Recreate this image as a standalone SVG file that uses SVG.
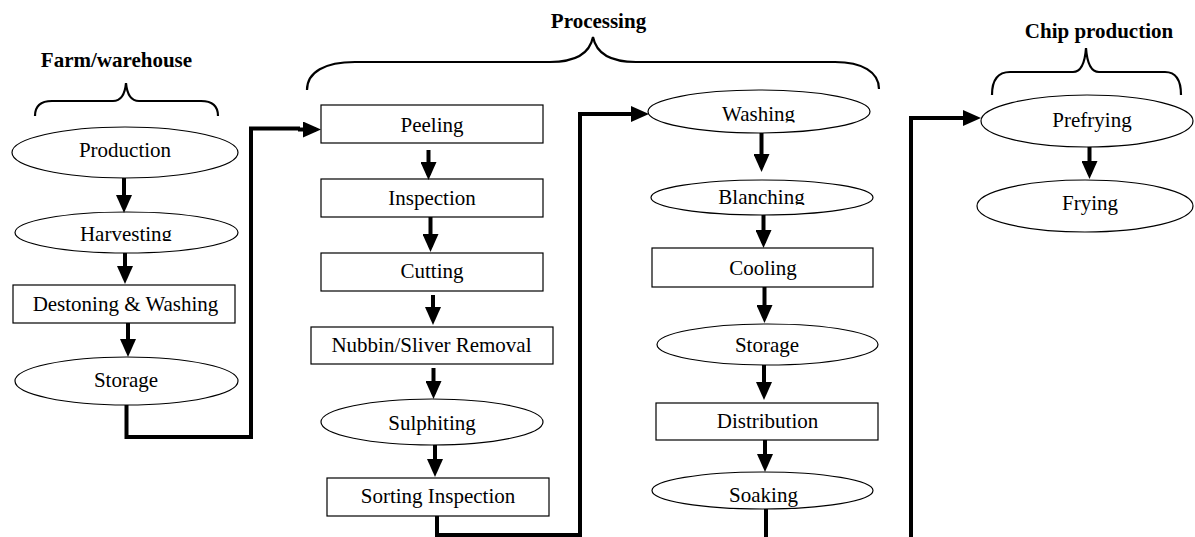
<svg xmlns="http://www.w3.org/2000/svg" width="1195" height="537" viewBox="0 0 1195 537">
<style>
.n{fill:#fff;stroke:#000;stroke-width:1.2}
.t{font-family:"Liberation Serif","Times New Roman",serif;font-size:21px;fill:#000;text-anchor:middle}
.h{font-family:"Liberation Serif","Times New Roman",serif;font-size:21px;font-weight:bold;fill:#000;text-anchor:middle}
.br{fill:none;stroke:#000;stroke-width:2.2}
.c{fill:none;stroke:#000;stroke-width:4}
</style>
<defs>
<marker id="ah" markerUnits="userSpaceOnUse" markerWidth="18" markerHeight="16" refX="13" refY="8" orient="auto">
<path d="M0,0 L18,8 L0,16 z" fill="#000"/>
</marker>
<clipPath id="clipHarv"><rect x="0" y="200" width="260" height="41"/></clipPath>
<clipPath id="clipWash"><rect x="640" y="90" width="240" height="32.5"/></clipPath>
<clipPath id="clipBlan"><rect x="640" y="178" width="240" height="27"/></clipPath>
</defs>

<g id="labels">
<text class="h" x="116.5" y="67">Farm/warehouse</text>
<path class="br" d="M35,116 C35,106 40,101 52,101 L113,101 C121,101 125,94 126,83 C127,94 131,101 139,101 L201,101 C213,101 218,106 218,116"/>
<text class="h" x="598.5" y="28">Processing</text>
<path class="br" d="M307,90 C307,72 325,62 355,62 L550,62 C578,62 590,52 593,37 C596,52 608,62 636,62 L835,62 C862,62 879,72 879,89"/>
<text class="h" x="1099" y="38">Chip production</text>
<path class="br" d="M992,95 C992,80 998,72 1010,72 L1073,72 C1081,72 1085,62 1086,48 C1087,62 1091,72 1099,72 L1165,72 C1176,72 1181,80 1181,95"/>
</g>

<g id="production"><ellipse class="n" cx="125" cy="152.5" rx="113" ry="25.5"/><text class="t" x="125" y="157">Production</text></g>
<g id="harvesting"><ellipse class="n" cx="126.5" cy="232.5" rx="111.5" ry="20.5"/><text class="t" x="126" y="241" clip-path="url(#clipHarv)">Harvesting</text></g>
<g id="destoning"><rect class="n" x="13" y="285" width="222" height="38"/><text class="t" x="125.5" y="311">Destoning &amp; Washing</text></g>
<g id="storage1"><ellipse class="n" cx="126.5" cy="381" rx="111.5" ry="24"/><text class="t" x="126" y="387">Storage</text></g>

<g id="peeling"><rect class="n" x="321" y="105" width="222" height="38"/><text class="t" x="432" y="132">Peeling</text></g>
<g id="inspection"><rect class="n" x="321" y="179" width="222" height="38"/><text class="t" x="432" y="205">Inspection</text></g>
<g id="cutting"><rect class="n" x="321" y="253" width="222" height="38"/><text class="t" x="432" y="278">Cutting</text></g>
<g id="nubbin"><rect class="n" x="311" y="327" width="242" height="37"/><text class="t" x="431.5" y="352">Nubbin/Sliver Removal</text></g>
<g id="sulphiting"><ellipse class="n" cx="432" cy="422" rx="111" ry="23"/><text class="t" x="432" y="430">Sulphiting</text></g>
<g id="sorting"><rect class="n" x="327" y="478" width="222" height="38"/><text class="t" x="438" y="503">Sorting Inspection</text></g>

<g id="washing"><ellipse class="n" cx="759" cy="111.5" rx="111" ry="21.5"/><text class="t" x="758.5" y="121" clip-path="url(#clipWash)">Washing</text></g>
<g id="blanching"><ellipse class="n" cx="762" cy="197.5" rx="111" ry="17.5"/><text class="t" x="761.5" y="204" clip-path="url(#clipBlan)">Blanching</text></g>
<g id="cooling"><rect class="n" x="652" y="248" width="221" height="39"/><text class="t" x="763" y="275">Cooling</text></g>
<g id="storage2"><ellipse class="n" cx="767.5" cy="344.5" rx="110.5" ry="20.5"/><text class="t" x="767" y="352">Storage</text></g>
<g id="distribution"><rect class="n" x="656" y="403" width="222" height="37"/><text class="t" x="767.5" y="428">Distribution</text></g>
<g id="soaking"><ellipse class="n" cx="762.5" cy="490.5" rx="110.5" ry="18.5"/><text class="t" x="763.5" y="502">Soaking</text></g>

<g id="prefrying"><ellipse class="n" cx="1087" cy="121" rx="106" ry="26"/><text class="t" x="1092" y="127">Prefrying</text></g>
<g id="frying"><ellipse class="n" cx="1085" cy="206" rx="108" ry="26"/><text class="t" x="1090" y="210">Frying</text></g>

<g id="connectors">
<path class="c" marker-end="url(#ah)" d="M124,178 V208"/>
<path class="c" marker-end="url(#ah)" d="M125,253 V279"/>
<path class="c" marker-end="url(#ah)" d="M128,323 V352"/>
<path class="c" d="M126.5,405 V437 H251 V128.5 H300"/>
<path class="c" marker-end="url(#ah)" d="M298,129.5 H316"/>
<path class="c" marker-end="url(#ah)" d="M428.5,150 V175"/>
<path class="c" marker-end="url(#ah)" d="M430.5,217 V247"/>
<path class="c" marker-end="url(#ah)" d="M433,295 V320"/>
<path class="c" marker-end="url(#ah)" d="M433.5,368 V394"/>
<path class="c" marker-end="url(#ah)" d="M435,445 V472"/>
<path class="c" marker-end="url(#ah)" d="M437,516 V535 H580 V114 H644"/>
<path class="c" marker-end="url(#ah)" d="M761.5,133 V167"/>
<path class="c" marker-end="url(#ah)" d="M763.5,215 V243"/>
<path class="c" marker-end="url(#ah)" d="M764.5,287 V318"/>
<path class="c" marker-end="url(#ah)" d="M764,365 V395"/>
<path class="c" marker-end="url(#ah)" d="M765,440 V467"/>
<path class="c" d="M766,509 V537"/>
<path class="c" marker-end="url(#ah)" d="M911,537 V118 H976"/>
<path class="c" marker-end="url(#ah)" d="M1089.5,147 V174"/>
</g>
</svg>
